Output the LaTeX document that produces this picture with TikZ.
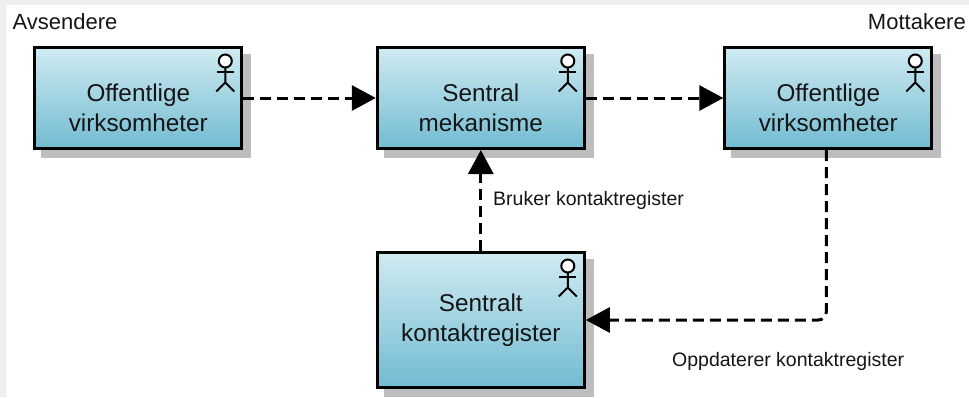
\documentclass[tikz,border=0pt]{standalone}
\usepackage{fontspec}
\setmainfont{Liberation Sans}
\usepackage{tikz}
\usetikzlibrary{arrows.meta,shadows}
\definecolor{boxtop}{HTML}{CFEBF1}
\definecolor{boxbottom}{HTML}{72BBD2}
\definecolor{boxshadow}{HTML}{BDBDBD}
\definecolor{pageedge}{HTML}{EFEFEF}
\definecolor{inktext}{HTML}{151515}
\newcommand{\actorman}[1]{
	\draw[actorline, fill=white] ([xshift=-18pt,yshift=-15pt]#1.north east) circle (6.5pt);
	\draw[actorline] ([xshift=-18pt,yshift=-21.5pt]#1.north east) -- ++(0,15) -- ++(-9,9)
		++(9,-9) -- ++(9,9);
	\draw[actorline] ([xshift=-26.5pt,yshift=-25.5pt]#1.north east) -- ++(17,0);
}
\begin{document}
\begin{tikzpicture}[x=1pt, y=-1pt, every node/.style={text=inktext}]
	\tikzset{
		actorbox/.style={draw=black, line width=3pt, top color=boxtop, bottom color=boxbottom,
			minimum width=207pt, minimum height=101pt, inner sep=0pt,
			drop shadow={shadow xshift=8pt, shadow yshift=-8pt, fill=boxshadow, draw=boxshadow, line width=3pt, opacity=1}},
		actorline/.style={black, line width=2pt},
		boxtext/.style={align=center, font=\fontsize{24.3}{30}\selectfont},
		smalltext/.style={inner sep=0pt, font=\fontsize{19.5}{23}\selectfont},
		cornertext/.style={inner sep=0pt, font=\fontsize{22}{26}\selectfont},
		flow/.style={line width=3pt, dash pattern=on 11pt off 6pt, -{Triangle[length=24pt,width=25pt]}}
	}
	\useasboundingbox (0,0) rectangle (969,397);
	\fill[white] (0,0) rectangle (969,397);
	\fill[pageedge] (0,0) rectangle (969,5);
	\fill[pageedge] (0,0) rectangle (6,397);
	\node[actorbox, label={[boxtext, yshift=-10pt]center:Offentlige\\virksomheter}] (n1) at (138.3,98) {};
	\node[actorbox, label={[boxtext, yshift=-10pt]center:Sentral\\mekanisme}] (n2) at (480.8,98) {};
	\node[actorbox, label={[boxtext, yshift=-10pt]center:Offentlige\\virksomheter}] (n3) at (828.3,98) {};
	\node[actorbox, minimum height=135pt, label={[boxtext, yshift=0pt]center:Sentralt\\kontaktregister}] (n4) at (480.8,320) {};
	\foreach \n in {n1,n2,n3,n4} {
		\actorman{\n}
	}
	\draw[flow] (n1) -- (n2);
	\draw[flow] (n2) -- (n3);
	\draw[flow] (n4) -- (n2);
	\draw[flow, rounded corners=8pt] ([xshift=-2pt]n3.south) |- (n4.east);
	\node[cornertext, anchor=west] (sender) at (12.5,22) {Avsendere};
	\node[cornertext, anchor=east] (receiver) at (966,22) {Mottakere};
	\node[smalltext, anchor=west] (uses) at (493,200) {Bruker kontaktregister};
	\node[smalltext, anchor=west] (updates) at (672,361) {Oppdaterer kontaktregister};
\end{tikzpicture}
\end{document}
